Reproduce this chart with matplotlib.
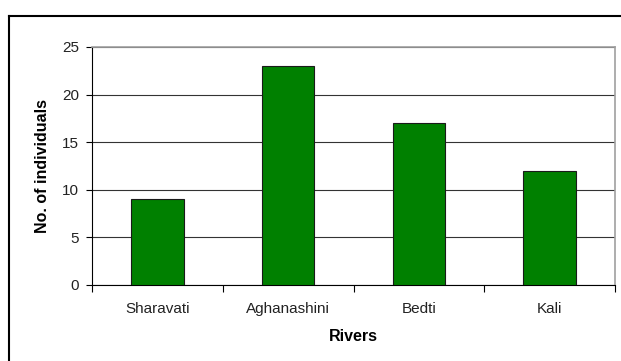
import matplotlib.pyplot as plt
from matplotlib.lines import Line2D

rivers = ['Sharavati', 'Aghanashini', 'Bedti', 'Kali']
individuals = [9, 23, 17, 12]

plt.rcParams['font.family'] = ['Liberation Sans', 'DejaVu Sans']

fig = plt.figure(figsize=(6.21, 3.61), dpi=100)
ax = fig.add_axes([92/621, 1-285/361, 523/621, 238/361])

# outer chart frame (runs off the right and bottom edges)
fig.add_artist(Line2D([9/621, 9/621], [0, 1-16/361], color='black', lw=1.5, transform=fig.transFigure))
fig.add_artist(Line2D([9/621, 1], [1-16/361, 1-16/361], color='black', lw=1.5, transform=fig.transFigure))

x = range(len(rivers))
ax.bar(x, individuals, width=0.4, color='#008000', edgecolor='#1a1a1a', linewidth=0.8, zorder=3)

ax.set_ylim(0, 25)
ax.set_xlim(-0.5, 3.5)
ax.set_yticks([0, 5, 10, 15, 20, 25])
ax.grid(axis='y', color='#333333', linewidth=0.8, zorder=0)

ax.set_xticks(list(x))
ax.set_xticklabels(rivers, fontsize=11, color='#222222')
ax.set_xticks([-0.5, 0.5, 1.5, 2.5, 3.5], minor=True)
ax.tick_params(axis='x', which='major', length=0, pad=12)
ax.tick_params(axis='x', which='minor', length=5, width=0.8, direction='out')
ax.tick_params(axis='y', length=4.5, width=0.8, pad=5, labelsize=11, labelcolor='#222222')

for side in ['top', 'right']:
    ax.spines[side].set_color('#a0a0a0')
    ax.spines[side].set_linewidth(1.2)
ax.spines['left'].set_linewidth(0.8)
ax.spines['bottom'].set_linewidth(0.8)

ax.set_ylabel('No. of individuals', fontsize=11.5, fontweight='bold')
ax.yaxis.set_label_coords(-0.08, 0.5)
ax.set_xlabel('Rivers', fontsize=11.5, fontweight='bold')
ax.xaxis.set_label_coords(0.5, -0.185)

fig.savefig('out.png', dpi=100)
